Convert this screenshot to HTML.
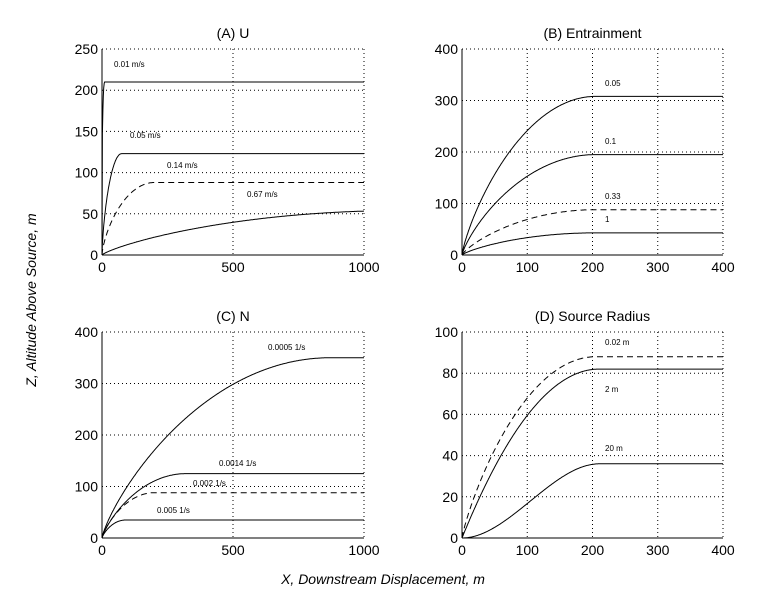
<!DOCTYPE html>
<html><head><meta charset="utf-8"><style>
body{margin:0;background:#fff;width:766px;height:606px;overflow:hidden}
svg{font-family:"Liberation Sans",Helvetica,sans-serif}
</style></head><body>
<svg id="s" width="766" height="606" viewBox="0 0 766 606" xmlns="http://www.w3.org/2000/svg">
<text x="383" y="584" font-size="14" font-style="italic" text-anchor="middle">X, Downstream Displacement, m</text>
<text transform="translate(36,300) rotate(-90)" font-size="14" font-style="italic" text-anchor="middle">Z, Altitude Above Source, m</text>
</svg>
<script>
const S=document.getElementById('s');const NS='http://www.w3.org/2000/svg';
function el(t,a,txt){const e=document.createElementNS(NS,t);for(const k in a)e.setAttribute(k,a[k]);if(txt!==undefined)e.textContent=txt;S.appendChild(e);return e;}
function panel(p){
 const {x0,y0,w,h,xmax,ymax,xt,yt,title}=p;
 const X=v=>x0+v/xmax*w, Y=v=>y0+h-v/ymax*h;
 xt.slice(1,-1).forEach(v=>el('line',{x1:X(v),x2:X(v),y1:y0,y2:y0+h,stroke:'#000','stroke-width':1,'stroke-dasharray':'1,3'}));
 yt.slice(1,-1).forEach(v=>el('line',{x1:x0,x2:x0+w,y1:Y(v),y2:Y(v),stroke:'#000','stroke-width':1,'stroke-dasharray':'1,3'}));
 el('line',{x1:x0,x2:x0+w,y1:y0,y2:y0,stroke:'#000','stroke-dasharray':'1,3'});
 el('line',{x1:x0+w,x2:x0+w,y1:y0,y2:y0+h,stroke:'#000','stroke-dasharray':'1,3'});
 el('line',{x1:x0,x2:x0+w,y1:y0+h,y2:y0+h,stroke:'#000'});
 el('line',{x1:x0,x2:x0,y1:y0,y2:y0+h,stroke:'#000'});
 xt.forEach(v=>{el('text',{x:X(v),y:y0+h+17,'font-size':14,'text-anchor':'middle'},String(v));});
 yt.forEach(v=>{el('text',{x:x0-4,y:Y(v)+5,'font-size':14,'text-anchor':'end'},String(v));});
 el('text',{x:x0+w/2,y:y0-11,'font-size':14,'text-anchor':'middle'},title);
 p.curves.forEach(c=>{
  let d='';for(let i=0;i<=600;i++){const x=xmax*i/600;const z=c.f(x);d+=(i?'L':'M')+X(x).toFixed(1)+','+Y(z).toFixed(1);}
  el('path',{d,fill:'none',stroke:'#000','stroke-width':1,'stroke-dasharray':c.dash?'6,4':'none'});
 });
 p.labels.forEach(l=>el('text',{x:l[0],y:l[1],'font-size':8},l[2]));
}
function rise(zf,xf,pw){pw=pw||0.8;return x=>{const t=Math.min(x/xf,1);return zf*Math.pow(1-Math.pow(1-t,2),pw);};}
function sig(zf,xf){return x=>{const t=Math.min(x/xf,1);return zf*(3*t*t-2*t*t*t);};}
panel({x0:102,y0:49,w:262,h:206,xmax:1000,ymax:250,xt:[0,500,1000],yt:[0,50,100,150,200,250],title:'(A) U',
 curves:[{f:rise(210,10,0.3)},{f:rise(123,75,0.7)},{f:rise(88,200,0.7),dash:1},{f:rise(54,1150,0.8)}],
 labels:[[114,67,'0.01 m/s'],[130,138,'0.05 m/s'],[167,168,'0.14 m/s'],[247,197,'0.67 m/s']]});
panel({x0:462,y0:49,w:261,h:206,xmax:400,ymax:400,xt:[0,100,200,300,400],yt:[0,100,200,300,400],title:'(B) Entrainment',
 curves:[{f:rise(308,205,0.8)},{f:rise(195,205,0.8)},{f:rise(88,205,0.8),dash:1},{f:rise(43,205,0.8)}],
 labels:[[605,86,'0.05'],[605,144,'0.1'],[605,199,'0.33'],[605,222,'1']]});
panel({x0:102,y0:332,w:262,h:206,xmax:1000,ymax:400,xt:[0,500,1000],yt:[0,100,200,300,400],title:'(C) N',
 curves:[{f:rise(350,870,0.8)},{f:rise(125,320,0.8)},{f:rise(88,200,0.8),dash:1},{f:rise(35,90,0.8)}],
 labels:[[268,350,'0.0005 1/s'],[219,466,'0.0014 1/s'],[193,486,'0.002 1/s'],[157,513,'0.005 1/s']]});
panel({x0:462,y0:332,w:261,h:206,xmax:400,ymax:100,xt:[0,100,200,300,400],yt:[0,20,40,60,80,100],title:'(D) Source Radius',
 curves:[{f:rise(88,205,0.85),dash:1},{f:rise(82,210,1)},{f:sig(36,210)}],
 labels:[[605,345,'0.02 m'],[605,392,'2 m'],[605,451,'20 m']]});
</script>
</body></html>
